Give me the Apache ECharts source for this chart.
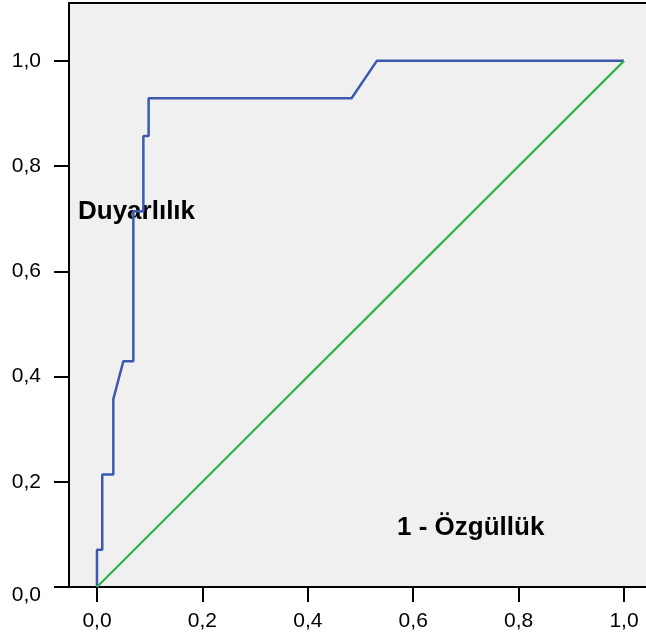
<!DOCTYPE html>
<html>
<head>
<meta charset="utf-8">
<script src="https://cdn.jsdelivr.net/npm/echarts@6/dist/echarts.min.js"></script>
<style>
html,body{margin:0;padding:0;background:#fff;}
#c{width:646px;height:641px;}
</style>
</head>
<body>
<div id="c"></div>
<script>
// ROC curve: 1 - specificity (x) vs sensitivity (y)
var rocFpr = [0, 0, 0.01, 0.01, 0.031, 0.031, 0.05, 0.069, 0.069, 0.088, 0.088, 0.098, 0.098, 0.483, 0.531, 1];
var rocTpr = [0, 0.071, 0.071, 0.214, 0.214, 0.357, 0.429, 0.429, 0.714, 0.714, 0.857, 0.857, 0.929, 0.929, 1, 1];
var refX = [0, 1];
var refY = [0, 1];
var tickValues = [0, 0.2, 0.4, 0.6, 0.8, 1.0];
var yTitle = 'Duyarlılık';
var xTitle = '1 - Özgüllük';

function fmt(v){ return v.toFixed(1).replace('.', ','); }

var rocData = rocFpr.map(function(x, i){ return [x, rocTpr[i]]; });
var refData = refX.map(function(x, i){ return [x, refY[i]]; });

var chart = echarts.init(document.getElementById('c'), null, {renderer: 'canvas'});
var font = '"Liberation Sans", Arial, sans-serif';
chart.setOption({
  animation: false,
  grid: {left: 69, right: 0, top: 3, bottom: 54, show: true, backgroundColor: '#F0F0F0', borderWidth: 0},
  xAxis: [{
    type: 'value', min: -0.0531, max: 1.0417,
    axisLine: {show: true, onZero: false, lineStyle: {color: '#000', width: 2}},
    axisTick: {show: true, length: 15, customValues: tickValues, lineStyle: {color: '#000', width: 2}},
    axisLabel: {customValues: tickValues, formatter: fmt, margin: 24, color: '#000', fontSize: 21, fontFamily: font},
    splitLine: {show: false}
  }, {
    type: 'value', position: 'top', min: -0.0531, max: 1.0417,
    axisLine: {show: true, onZero: false, lineStyle: {color: '#000', width: 2}},
    axisTick: {show: false}, axisLabel: {show: false}, splitLine: {show: false}
  }],
  yAxis: {
    type: 'value', min: 0, max: 1.110,
    axisLine: {show: true, onZero: false, lineStyle: {color: '#000', width: 2}},
    axisTick: {show: true, length: 15, customValues: tickValues, lineStyle: {color: '#000', width: 2}},
    axisLabel: {
      customValues: tickValues, margin: 28, color: '#000', fontSize: 21, fontFamily: font,
      formatter: function(v){ return v === 0 ? '{low|' + fmt(v) + '}' : fmt(v); },
      rich: {low: {padding: [16, 0, 0, 0], fontSize: 21, fontFamily: font, color: '#000'}}
    },
    splitLine: {show: false}
  },
  series: [{
    type: 'line', data: rocData, showSymbol: false, symbol: 'none',
    lineStyle: {color: '#3D59AD', width: 2.5}, z: 2
  }, {
    type: 'line', data: refData, showSymbol: false, symbol: 'none',
    lineStyle: {color: '#2DB34A', width: 2.2}, z: 3
  }],
  graphic: [{
    type: 'text', x: 78, y: 212,
    style: {text: yTitle, font: 'bold 26px ' + font, fill: '#000', verticalAlign: 'middle', align: 'left'}
  }, {
    type: 'text', x: 397, y: 528,
    style: {text: xTitle, font: 'bold 26px ' + font, fill: '#000', verticalAlign: 'middle', align: 'left'}
  }]
});
</script>
</body>
</html>
